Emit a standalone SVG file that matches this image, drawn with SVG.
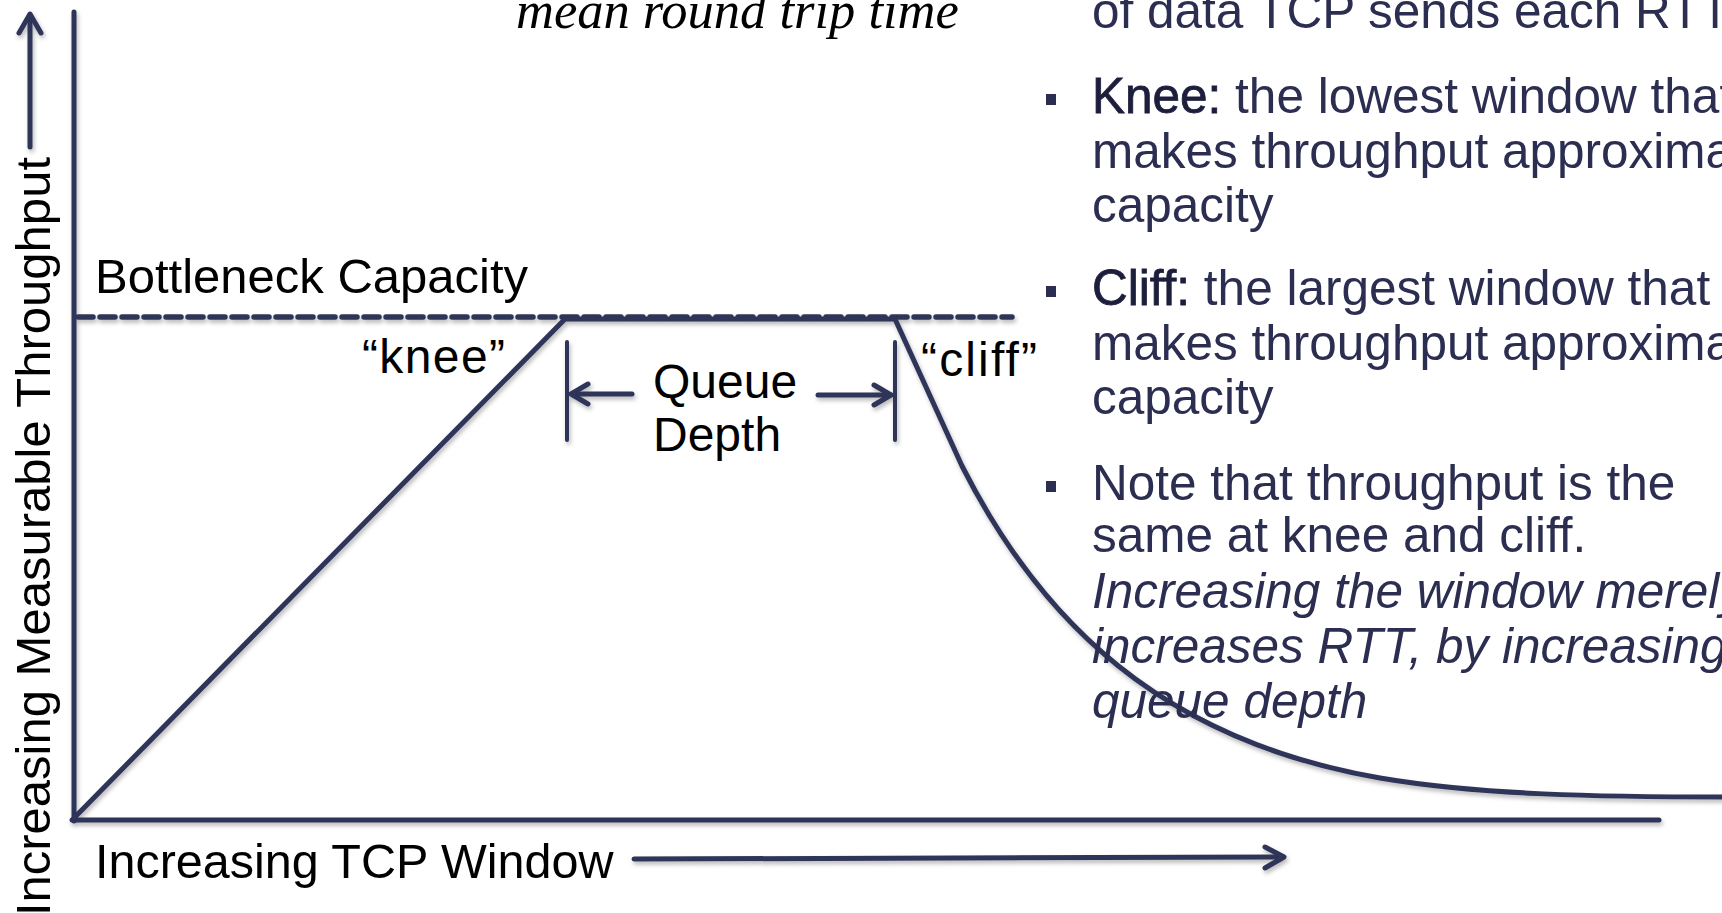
<svg xmlns="http://www.w3.org/2000/svg" width="1722" height="913" viewBox="0 0 1722 913">
  <style>
    .ln { fill: none; stroke: #2f3459; stroke-linecap: round; stroke-linejoin: round; }
    .lbl { font-family: "Liberation Sans", Arial, sans-serif; fill: #000; }
    .bul { font-family: "Liberation Sans", Arial, sans-serif; fill: #2b2e50; font-size: 49.5px; }
    .key { fill: #1c1e3c; stroke: #1c1e3c; stroke-width: 0.8px; }
    .sq { fill: #2b2e50; }
  </style>
  <defs>
    <filter id="sh" x="-5%" y="-5%" width="110%" height="110%">
      <feDropShadow dx="1.5" dy="3" stdDeviation="2" flood-color="#000" flood-opacity="0.28"/>
    </filter>
  </defs>

  <g id="connectors" filter="url(#sh)">
    <!-- axes -->
    <line class="ln" x1="74" y1="12" x2="74" y2="821" stroke-width="5" stroke-linecap="butt"/>
    <line class="ln" x1="72" y1="820" x2="1659" y2="820" stroke-width="5" stroke-linecap="butt"/>
    <!-- bottleneck dashed line -->
    <line class="ln" x1="78" y1="317" x2="1012" y2="317" stroke-width="5.5" stroke-dasharray="15 7" stroke-linecap="butt"/>
    <!-- throughput curve -->
    <path class="ln" stroke-width="5" d="M 74 818 L 565 319 L 895 319 L 962 466 C 1040 620, 1160 740, 1380 778 C 1480 795, 1600 797, 1726 797"/>
    <!-- y-axis label arrow -->
    <line class="ln" x1="30" y1="147" x2="30" y2="15" stroke-width="5"/>
    <polyline class="ln" points="19,33 30,14 41,33" stroke-width="5"/>
    <!-- x-axis label arrow -->
    <line class="ln" x1="634" y1="859" x2="1283" y2="857" stroke-width="5"/>
    <polyline class="ln" points="1265,847 1284,857 1265,868" stroke-width="5"/>
    <!-- queue depth bracket -->
    <line class="ln" x1="567" y1="342" x2="567" y2="440" stroke-width="4"/>
    <line class="ln" x1="895" y1="342" x2="895" y2="440" stroke-width="4"/>
    <line class="ln" x1="572" y1="394" x2="632" y2="394" stroke-width="5"/>
    <polyline class="ln" points="588,384 571,394 588,404" stroke-width="5"/>
    <line class="ln" x1="818" y1="395" x2="891" y2="395" stroke-width="5"/>
    <polyline class="ln" points="874,385 891,395 874,405" stroke-width="5"/>
  </g>

  <g id="title-formula">
    <text x="516" y="28" font-family="'Liberation Serif', 'Times New Roman', serif" font-style="italic" font-size="52.5" fill="#000">mean round trip time</text>
  </g>

  <g id="y-axis-label">
    <text class="lbl" transform="translate(50,157) rotate(-90)" text-anchor="end" font-size="49">Increasing Measurable Throughput</text>
  </g>

  <g id="x-axis-label">
    <text class="lbl" x="95" y="878" font-size="48.5">Increasing TCP Window</text>
  </g>

  <g id="bottleneck-label">
    <text class="lbl" x="95" y="293" font-size="49">Bottleneck Capacity</text>
  </g>

  <g id="knee-label">
    <text class="lbl" x="362" y="373" font-size="48" textLength="143" lengthAdjust="spacing">“knee”</text>
  </g>

  <g id="cliff-label">
    <text class="lbl" x="921" y="376" font-size="48" textLength="116" lengthAdjust="spacing">“cliff”</text>
  </g>

  <g id="queue-depth-label">
    <text class="lbl" x="653" y="398" font-size="48">Queue</text>
    <text class="lbl" x="653" y="451" font-size="48">Depth</text>
  </g>

  <g id="notes">
    <text class="bul" x="1092" y="28">of data TCP sends each RTT</text>

    <rect class="sq" x="1046" y="94" width="10" height="11"/>
    <text class="bul" x="1092" y="113"><tspan class="key">Knee:</tspan> the lowest window that</text>
    <text class="bul" x="1092" y="168">makes throughput approximately</text>
    <text class="bul" x="1092" y="222">capacity</text>

    <rect class="sq" x="1046" y="286" width="10" height="11"/>
    <text class="bul" x="1092" y="305"><tspan class="key">Cliff:</tspan> the largest window that</text>
    <text class="bul" x="1092" y="360">makes throughput approximately</text>
    <text class="bul" x="1092" y="414">capacity</text>

    <rect class="sq" x="1046" y="481" width="10" height="11"/>
    <text class="bul" x="1092" y="500">Note that throughput is the</text>
    <text class="bul" x="1092" y="552">same at knee and cliff.</text>
    <text class="bul" x="1092" y="608" font-style="italic">Increasing the window merely</text>
    <text class="bul" x="1092" y="663" font-style="italic">increases RTT, by increasing</text>
    <text class="bul" x="1092" y="718" font-style="italic">queue depth</text>
  </g>
</svg>
